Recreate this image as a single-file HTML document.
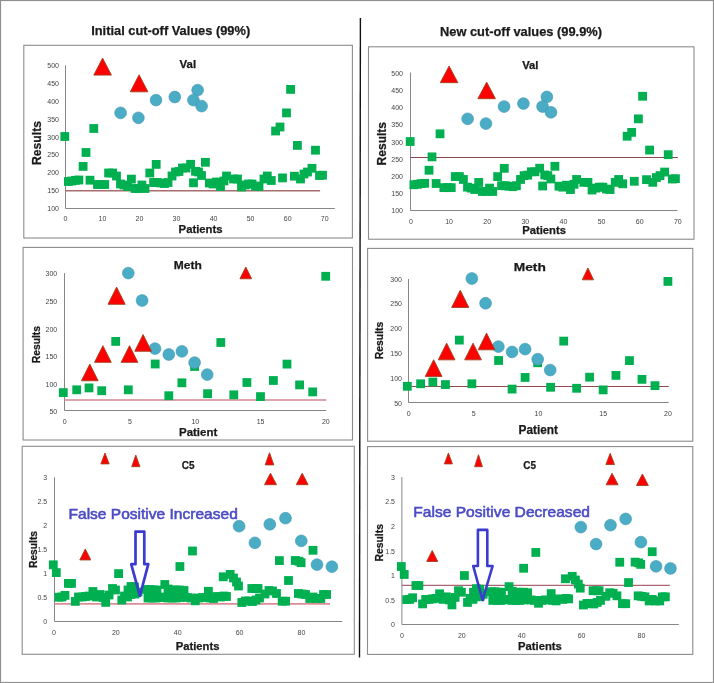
<!DOCTYPE html>
<html><head><meta charset="utf-8"><title>cut-off values</title>
<style>
html,body{margin:0;padding:0;background:#fff;}
svg{display:block;will-change:transform;}
text{font-family:"Liberation Sans", sans-serif;}
</style></head>
<body>
<svg width="714" height="683" viewBox="0 0 714 683">
<rect x="23.80" y="45.30" width="328.60" height="192.70" fill="#fff" stroke="#8c8c8c" stroke-width="1.1"/>
<rect x="368.50" y="46.80" width="325.50" height="192.40" fill="#fff" stroke="#8c8c8c" stroke-width="1.1"/>
<rect x="23.10" y="247.40" width="329.40" height="192.60" fill="#fff" stroke="#8c8c8c" stroke-width="1.1"/>
<rect x="367.60" y="248.40" width="325.20" height="192.80" fill="#fff" stroke="#8c8c8c" stroke-width="1.1"/>
<rect x="22.20" y="446.30" width="332.10" height="208.00" fill="#fff" stroke="#8c8c8c" stroke-width="1.1"/>
<rect x="367.50" y="446.60" width="325.30" height="207.80" fill="#fff" stroke="#8c8c8c" stroke-width="1.1"/>
<text x="91.20" y="35.00" font-size="13" text-anchor="start" font-weight="bold" fill="#1a1a1a" textLength="159.00" lengthAdjust="spacingAndGlyphs" stroke="#1a1a1a" stroke-width="0.25">Initial cut-off Values (99%)</text>
<text x="440.00" y="35.50" font-size="13" text-anchor="start" font-weight="bold" fill="#1a1a1a" textLength="162.00" lengthAdjust="spacingAndGlyphs" stroke="#1a1a1a" stroke-width="0.25">New cut-off values (99.9%)</text>
<line x1="360.40" y1="18.00" x2="359.50" y2="657.60" stroke="#111" stroke-width="1.4"/>
<line x1="65.50" y1="65.30" x2="65.50" y2="208.50" stroke="#868686" stroke-width="1"/>
<line x1="65.50" y1="208.50" x2="334.80" y2="208.50" stroke="#868686" stroke-width="1"/>
<line x1="65.50" y1="190.80" x2="320.10" y2="190.80" stroke="#a66e6e" stroke-width="1.4"/>
<text x="59.00" y="211.00" font-size="7" text-anchor="end" font-weight="normal" fill="#444444">100</text>
<text x="59.00" y="193.15" font-size="7" text-anchor="end" font-weight="normal" fill="#444444">150</text>
<text x="59.00" y="175.30" font-size="7" text-anchor="end" font-weight="normal" fill="#444444">200</text>
<text x="59.00" y="157.45" font-size="7" text-anchor="end" font-weight="normal" fill="#444444">250</text>
<text x="59.00" y="139.60" font-size="7" text-anchor="end" font-weight="normal" fill="#444444">300</text>
<text x="59.00" y="121.75" font-size="7" text-anchor="end" font-weight="normal" fill="#444444">350</text>
<text x="59.00" y="103.90" font-size="7" text-anchor="end" font-weight="normal" fill="#444444">400</text>
<text x="59.00" y="86.05" font-size="7" text-anchor="end" font-weight="normal" fill="#444444">450</text>
<text x="59.00" y="68.20" font-size="7" text-anchor="end" font-weight="normal" fill="#444444">500</text>
<text x="65.40" y="221.10" font-size="7" text-anchor="middle" font-weight="normal" fill="#444444">0</text>
<text x="102.44" y="221.10" font-size="7" text-anchor="middle" font-weight="normal" fill="#444444">10</text>
<text x="139.48" y="221.10" font-size="7" text-anchor="middle" font-weight="normal" fill="#444444">20</text>
<text x="176.52" y="221.10" font-size="7" text-anchor="middle" font-weight="normal" fill="#444444">30</text>
<text x="213.56" y="221.10" font-size="7" text-anchor="middle" font-weight="normal" fill="#444444">40</text>
<text x="250.60" y="221.10" font-size="7" text-anchor="middle" font-weight="normal" fill="#444444">50</text>
<text x="287.64" y="221.10" font-size="7" text-anchor="middle" font-weight="normal" fill="#444444">60</text>
<text x="324.68" y="221.10" font-size="7" text-anchor="middle" font-weight="normal" fill="#444444">70</text>
<text x="179.60" y="67.70" font-size="10.5" text-anchor="start" font-weight="bold" fill="#1a1a1a" textLength="16.50" lengthAdjust="spacingAndGlyphs" stroke="#1a1a1a" stroke-width="0.25">Val</text>
<text x="178.60" y="232.60" font-size="11" text-anchor="start" font-weight="bold" fill="#1a1a1a" textLength="44.00" lengthAdjust="spacingAndGlyphs" stroke="#1a1a1a" stroke-width="0.25">Patients</text>
<text x="0" y="0" font-size="12.9" font-weight="bold" fill="#1a1a1a" text-anchor="middle" textLength="44.00" lengthAdjust="spacingAndGlyphs" stroke="#1a1a1a" stroke-width="0.25" transform="translate(36.20,143.00) rotate(-90)" dy="4.64">Results</text>
<rect x="60.40" y="132.10" width="8.80" height="8.80" fill="#00b050"/>
<rect x="89.40" y="124.10" width="8.80" height="8.80" fill="#00b050"/>
<rect x="81.60" y="148.10" width="8.80" height="8.80" fill="#00b050"/>
<rect x="78.70" y="162.00" width="8.80" height="8.80" fill="#00b050"/>
<rect x="64.00" y="177.10" width="8.80" height="8.80" fill="#00b050"/>
<rect x="67.50" y="176.60" width="8.80" height="8.80" fill="#00b050"/>
<rect x="71.00" y="175.90" width="8.80" height="8.80" fill="#00b050"/>
<rect x="74.50" y="175.60" width="8.80" height="8.80" fill="#00b050"/>
<rect x="85.60" y="175.80" width="8.80" height="8.80" fill="#00b050"/>
<rect x="93.10" y="180.10" width="8.80" height="8.80" fill="#00b050"/>
<rect x="96.60" y="180.10" width="8.80" height="8.80" fill="#00b050"/>
<rect x="100.30" y="180.10" width="8.80" height="8.80" fill="#00b050"/>
<rect x="104.20" y="168.60" width="8.80" height="8.80" fill="#00b050"/>
<rect x="108.20" y="168.60" width="8.80" height="8.80" fill="#00b050"/>
<rect x="112.10" y="171.60" width="8.80" height="8.80" fill="#00b050"/>
<rect x="116.10" y="179.60" width="8.80" height="8.80" fill="#00b050"/>
<rect x="119.60" y="180.60" width="8.80" height="8.80" fill="#00b050"/>
<rect x="123.10" y="182.10" width="8.80" height="8.80" fill="#00b050"/>
<rect x="127.00" y="174.70" width="8.80" height="8.80" fill="#00b050"/>
<rect x="130.60" y="184.10" width="8.80" height="8.80" fill="#00b050"/>
<rect x="134.10" y="184.10" width="8.80" height="8.80" fill="#00b050"/>
<rect x="137.50" y="180.60" width="8.80" height="8.80" fill="#00b050"/>
<rect x="140.60" y="184.10" width="8.80" height="8.80" fill="#00b050"/>
<rect x="145.40" y="168.60" width="8.80" height="8.80" fill="#00b050"/>
<rect x="151.80" y="160.00" width="8.80" height="8.80" fill="#00b050"/>
<rect x="149.20" y="178.10" width="8.80" height="8.80" fill="#00b050"/>
<rect x="152.80" y="178.10" width="8.80" height="8.80" fill="#00b050"/>
<rect x="156.50" y="178.60" width="8.80" height="8.80" fill="#00b050"/>
<rect x="160.10" y="179.10" width="8.80" height="8.80" fill="#00b050"/>
<rect x="163.60" y="178.10" width="8.80" height="8.80" fill="#00b050"/>
<rect x="167.60" y="171.60" width="8.80" height="8.80" fill="#00b050"/>
<rect x="171.10" y="167.60" width="8.80" height="8.80" fill="#00b050"/>
<rect x="174.60" y="167.10" width="8.80" height="8.80" fill="#00b050"/>
<rect x="178.10" y="163.60" width="8.80" height="8.80" fill="#00b050"/>
<rect x="181.60" y="163.60" width="8.80" height="8.80" fill="#00b050"/>
<rect x="186.20" y="159.90" width="8.80" height="8.80" fill="#00b050"/>
<rect x="189.10" y="178.40" width="8.80" height="8.80" fill="#00b050"/>
<rect x="191.10" y="166.90" width="8.80" height="8.80" fill="#00b050"/>
<rect x="194.10" y="167.60" width="8.80" height="8.80" fill="#00b050"/>
<rect x="197.10" y="171.10" width="8.80" height="8.80" fill="#00b050"/>
<rect x="201.00" y="157.90" width="8.80" height="8.80" fill="#00b050"/>
<rect x="204.90" y="178.60" width="8.80" height="8.80" fill="#00b050"/>
<rect x="208.60" y="179.60" width="8.80" height="8.80" fill="#00b050"/>
<rect x="212.10" y="177.60" width="8.80" height="8.80" fill="#00b050"/>
<rect x="216.10" y="182.10" width="8.80" height="8.80" fill="#00b050"/>
<rect x="219.60" y="176.60" width="8.80" height="8.80" fill="#00b050"/>
<rect x="222.10" y="171.60" width="8.80" height="8.80" fill="#00b050"/>
<rect x="229.10" y="174.60" width="8.80" height="8.80" fill="#00b050"/>
<rect x="233.10" y="174.60" width="8.80" height="8.80" fill="#00b050"/>
<rect x="237.10" y="182.60" width="8.80" height="8.80" fill="#00b050"/>
<rect x="240.60" y="180.60" width="8.80" height="8.80" fill="#00b050"/>
<rect x="244.10" y="179.60" width="8.80" height="8.80" fill="#00b050"/>
<rect x="247.60" y="179.60" width="8.80" height="8.80" fill="#00b050"/>
<rect x="251.10" y="181.60" width="8.80" height="8.80" fill="#00b050"/>
<rect x="254.60" y="182.10" width="8.80" height="8.80" fill="#00b050"/>
<rect x="259.60" y="174.60" width="8.80" height="8.80" fill="#00b050"/>
<rect x="262.90" y="171.60" width="8.80" height="8.80" fill="#00b050"/>
<rect x="266.90" y="176.10" width="8.80" height="8.80" fill="#00b050"/>
<rect x="271.20" y="126.60" width="8.80" height="8.80" fill="#00b050"/>
<rect x="275.60" y="122.60" width="8.80" height="8.80" fill="#00b050"/>
<rect x="282.10" y="108.50" width="8.80" height="8.80" fill="#00b050"/>
<rect x="286.20" y="85.00" width="8.80" height="8.80" fill="#00b050"/>
<rect x="278.10" y="173.50" width="8.80" height="8.80" fill="#00b050"/>
<rect x="290.00" y="171.80" width="8.80" height="8.80" fill="#00b050"/>
<rect x="293.00" y="141.00" width="8.80" height="8.80" fill="#00b050"/>
<rect x="296.10" y="174.60" width="8.80" height="8.80" fill="#00b050"/>
<rect x="299.60" y="169.60" width="8.80" height="8.80" fill="#00b050"/>
<rect x="303.10" y="167.60" width="8.80" height="8.80" fill="#00b050"/>
<rect x="307.60" y="163.90" width="8.80" height="8.80" fill="#00b050"/>
<rect x="311.10" y="145.80" width="8.80" height="8.80" fill="#00b050"/>
<rect x="315.10" y="171.10" width="8.80" height="8.80" fill="#00b050"/>
<rect x="318.10" y="170.80" width="8.80" height="8.80" fill="#00b050"/>
<circle cx="120.60" cy="112.90" r="5.90" fill="#4bacc6" stroke="#3e96b0" stroke-width="0.6"/>
<circle cx="138.40" cy="117.80" r="5.90" fill="#4bacc6" stroke="#3e96b0" stroke-width="0.6"/>
<circle cx="156.00" cy="100.10" r="5.90" fill="#4bacc6" stroke="#3e96b0" stroke-width="0.6"/>
<circle cx="174.80" cy="97.00" r="5.90" fill="#4bacc6" stroke="#3e96b0" stroke-width="0.6"/>
<circle cx="197.60" cy="90.10" r="5.90" fill="#4bacc6" stroke="#3e96b0" stroke-width="0.6"/>
<circle cx="193.40" cy="100.10" r="5.90" fill="#4bacc6" stroke="#3e96b0" stroke-width="0.6"/>
<circle cx="201.60" cy="106.10" r="5.90" fill="#4bacc6" stroke="#3e96b0" stroke-width="0.6"/>
<polygon points="102.60,58.10 93.80,75.10 111.40,75.10" fill="#ff0000" stroke="#a2401e" stroke-width="0.9" stroke-linejoin="miter"/>
<polygon points="139.10,74.80 130.30,91.80 147.90,91.80" fill="#ff0000" stroke="#a2401e" stroke-width="0.9" stroke-linejoin="miter"/>
<line x1="410.50" y1="72.50" x2="410.50" y2="210.50" stroke="#868686" stroke-width="1"/>
<line x1="410.50" y1="210.50" x2="677.50" y2="210.50" stroke="#868686" stroke-width="1"/>
<line x1="410.50" y1="157.50" x2="677.80" y2="157.50" stroke="#8c464b" stroke-width="1.2"/>
<text x="403.00" y="213.20" font-size="7" text-anchor="end" font-weight="normal" fill="#444444">100</text>
<text x="403.00" y="196.05" font-size="7" text-anchor="end" font-weight="normal" fill="#444444">150</text>
<text x="403.00" y="178.90" font-size="7" text-anchor="end" font-weight="normal" fill="#444444">200</text>
<text x="403.00" y="161.75" font-size="7" text-anchor="end" font-weight="normal" fill="#444444">250</text>
<text x="403.00" y="144.60" font-size="7" text-anchor="end" font-weight="normal" fill="#444444">300</text>
<text x="403.00" y="127.45" font-size="7" text-anchor="end" font-weight="normal" fill="#444444">350</text>
<text x="403.00" y="110.30" font-size="7" text-anchor="end" font-weight="normal" fill="#444444">400</text>
<text x="403.00" y="93.15" font-size="7" text-anchor="end" font-weight="normal" fill="#444444">450</text>
<text x="403.00" y="76.00" font-size="7" text-anchor="end" font-weight="normal" fill="#444444">500</text>
<text x="410.90" y="223.80" font-size="7" text-anchor="middle" font-weight="normal" fill="#444444">0</text>
<text x="449.03" y="223.80" font-size="7" text-anchor="middle" font-weight="normal" fill="#444444">10</text>
<text x="487.16" y="223.80" font-size="7" text-anchor="middle" font-weight="normal" fill="#444444">20</text>
<text x="525.29" y="223.80" font-size="7" text-anchor="middle" font-weight="normal" fill="#444444">30</text>
<text x="563.42" y="223.80" font-size="7" text-anchor="middle" font-weight="normal" fill="#444444">40</text>
<text x="601.55" y="223.80" font-size="7" text-anchor="middle" font-weight="normal" fill="#444444">50</text>
<text x="639.68" y="223.80" font-size="7" text-anchor="middle" font-weight="normal" fill="#444444">60</text>
<text x="677.81" y="223.80" font-size="7" text-anchor="middle" font-weight="normal" fill="#444444">70</text>
<text x="522.20" y="68.60" font-size="10.5" text-anchor="start" font-weight="bold" fill="#1a1a1a" textLength="16.20" lengthAdjust="spacingAndGlyphs" stroke="#1a1a1a" stroke-width="0.25">Val</text>
<text x="522.20" y="233.60" font-size="11" text-anchor="start" font-weight="bold" fill="#1a1a1a" textLength="43.70" lengthAdjust="spacingAndGlyphs" stroke="#1a1a1a" stroke-width="0.25">Patients</text>
<text x="0" y="0" font-size="12.9" font-weight="bold" fill="#1a1a1a" text-anchor="middle" textLength="43.40" lengthAdjust="spacingAndGlyphs" stroke="#1a1a1a" stroke-width="0.25" transform="translate(381.30,143.70) rotate(-90)" dy="4.64">Results</text>
<rect x="405.78" y="137.11" width="8.80" height="8.80" fill="#00b050"/>
<rect x="435.63" y="129.43" width="8.80" height="8.80" fill="#00b050"/>
<rect x="427.60" y="152.48" width="8.80" height="8.80" fill="#00b050"/>
<rect x="424.62" y="165.84" width="8.80" height="8.80" fill="#00b050"/>
<rect x="409.49" y="180.35" width="8.80" height="8.80" fill="#00b050"/>
<rect x="413.09" y="179.87" width="8.80" height="8.80" fill="#00b050"/>
<rect x="416.69" y="179.19" width="8.80" height="8.80" fill="#00b050"/>
<rect x="420.30" y="178.91" width="8.80" height="8.80" fill="#00b050"/>
<rect x="431.72" y="179.10" width="8.80" height="8.80" fill="#00b050"/>
<rect x="439.44" y="183.23" width="8.80" height="8.80" fill="#00b050"/>
<rect x="443.04" y="183.23" width="8.80" height="8.80" fill="#00b050"/>
<rect x="446.85" y="183.23" width="8.80" height="8.80" fill="#00b050"/>
<rect x="450.87" y="172.18" width="8.80" height="8.80" fill="#00b050"/>
<rect x="454.98" y="172.18" width="8.80" height="8.80" fill="#00b050"/>
<rect x="459.00" y="175.06" width="8.80" height="8.80" fill="#00b050"/>
<rect x="463.11" y="182.75" width="8.80" height="8.80" fill="#00b050"/>
<rect x="466.72" y="183.71" width="8.80" height="8.80" fill="#00b050"/>
<rect x="470.32" y="185.15" width="8.80" height="8.80" fill="#00b050"/>
<rect x="474.33" y="178.04" width="8.80" height="8.80" fill="#00b050"/>
<rect x="478.04" y="187.07" width="8.80" height="8.80" fill="#00b050"/>
<rect x="481.64" y="187.07" width="8.80" height="8.80" fill="#00b050"/>
<rect x="485.14" y="183.71" width="8.80" height="8.80" fill="#00b050"/>
<rect x="488.33" y="187.07" width="8.80" height="8.80" fill="#00b050"/>
<rect x="493.27" y="172.18" width="8.80" height="8.80" fill="#00b050"/>
<rect x="499.86" y="163.92" width="8.80" height="8.80" fill="#00b050"/>
<rect x="497.19" y="181.31" width="8.80" height="8.80" fill="#00b050"/>
<rect x="500.89" y="181.31" width="8.80" height="8.80" fill="#00b050"/>
<rect x="504.70" y="181.79" width="8.80" height="8.80" fill="#00b050"/>
<rect x="508.40" y="182.27" width="8.80" height="8.80" fill="#00b050"/>
<rect x="512.01" y="181.31" width="8.80" height="8.80" fill="#00b050"/>
<rect x="516.12" y="175.06" width="8.80" height="8.80" fill="#00b050"/>
<rect x="519.73" y="171.22" width="8.80" height="8.80" fill="#00b050"/>
<rect x="523.33" y="170.74" width="8.80" height="8.80" fill="#00b050"/>
<rect x="526.93" y="167.38" width="8.80" height="8.80" fill="#00b050"/>
<rect x="530.53" y="167.38" width="8.80" height="8.80" fill="#00b050"/>
<rect x="535.27" y="163.82" width="8.80" height="8.80" fill="#00b050"/>
<rect x="538.25" y="181.60" width="8.80" height="8.80" fill="#00b050"/>
<rect x="540.31" y="170.55" width="8.80" height="8.80" fill="#00b050"/>
<rect x="543.40" y="171.22" width="8.80" height="8.80" fill="#00b050"/>
<rect x="546.49" y="174.58" width="8.80" height="8.80" fill="#00b050"/>
<rect x="550.50" y="161.90" width="8.80" height="8.80" fill="#00b050"/>
<rect x="554.52" y="181.79" width="8.80" height="8.80" fill="#00b050"/>
<rect x="558.33" y="182.75" width="8.80" height="8.80" fill="#00b050"/>
<rect x="561.93" y="180.83" width="8.80" height="8.80" fill="#00b050"/>
<rect x="566.05" y="185.15" width="8.80" height="8.80" fill="#00b050"/>
<rect x="569.65" y="179.87" width="8.80" height="8.80" fill="#00b050"/>
<rect x="572.22" y="175.06" width="8.80" height="8.80" fill="#00b050"/>
<rect x="579.43" y="177.95" width="8.80" height="8.80" fill="#00b050"/>
<rect x="583.54" y="177.95" width="8.80" height="8.80" fill="#00b050"/>
<rect x="587.66" y="185.63" width="8.80" height="8.80" fill="#00b050"/>
<rect x="591.26" y="183.71" width="8.80" height="8.80" fill="#00b050"/>
<rect x="594.87" y="182.75" width="8.80" height="8.80" fill="#00b050"/>
<rect x="598.47" y="182.75" width="8.80" height="8.80" fill="#00b050"/>
<rect x="602.07" y="184.67" width="8.80" height="8.80" fill="#00b050"/>
<rect x="605.67" y="185.15" width="8.80" height="8.80" fill="#00b050"/>
<rect x="610.82" y="177.95" width="8.80" height="8.80" fill="#00b050"/>
<rect x="614.22" y="175.06" width="8.80" height="8.80" fill="#00b050"/>
<rect x="618.33" y="179.39" width="8.80" height="8.80" fill="#00b050"/>
<rect x="622.76" y="131.83" width="8.80" height="8.80" fill="#00b050"/>
<rect x="627.29" y="127.98" width="8.80" height="8.80" fill="#00b050"/>
<rect x="633.98" y="114.44" width="8.80" height="8.80" fill="#00b050"/>
<rect x="638.20" y="91.86" width="8.80" height="8.80" fill="#00b050"/>
<rect x="629.86" y="176.89" width="8.80" height="8.80" fill="#00b050"/>
<rect x="642.11" y="175.25" width="8.80" height="8.80" fill="#00b050"/>
<rect x="645.20" y="145.66" width="8.80" height="8.80" fill="#00b050"/>
<rect x="648.39" y="177.95" width="8.80" height="8.80" fill="#00b050"/>
<rect x="651.99" y="173.14" width="8.80" height="8.80" fill="#00b050"/>
<rect x="655.60" y="171.22" width="8.80" height="8.80" fill="#00b050"/>
<rect x="660.23" y="167.66" width="8.80" height="8.80" fill="#00b050"/>
<rect x="663.83" y="150.27" width="8.80" height="8.80" fill="#00b050"/>
<rect x="667.95" y="174.58" width="8.80" height="8.80" fill="#00b050"/>
<rect x="671.04" y="174.29" width="8.80" height="8.80" fill="#00b050"/>
<circle cx="467.62" cy="118.84" r="5.90" fill="#4bacc6" stroke="#3e96b0" stroke-width="0.6"/>
<circle cx="485.94" cy="123.55" r="5.90" fill="#4bacc6" stroke="#3e96b0" stroke-width="0.6"/>
<circle cx="504.06" cy="106.54" r="5.90" fill="#4bacc6" stroke="#3e96b0" stroke-width="0.6"/>
<circle cx="523.41" cy="103.56" r="5.90" fill="#4bacc6" stroke="#3e96b0" stroke-width="0.6"/>
<circle cx="546.87" cy="96.93" r="5.90" fill="#4bacc6" stroke="#3e96b0" stroke-width="0.6"/>
<circle cx="542.55" cy="106.54" r="5.90" fill="#4bacc6" stroke="#3e96b0" stroke-width="0.6"/>
<circle cx="550.99" cy="112.30" r="5.90" fill="#4bacc6" stroke="#3e96b0" stroke-width="0.6"/>
<polygon points="449.09,66.05 440.29,82.65 457.89,82.65" fill="#ff0000" stroke="#a2401e" stroke-width="0.9" stroke-linejoin="miter"/>
<polygon points="486.66,82.10 477.86,98.70 495.46,98.70" fill="#ff0000" stroke="#a2401e" stroke-width="0.9" stroke-linejoin="miter"/>
<line x1="64.50" y1="273.10" x2="64.50" y2="410.50" stroke="#868686" stroke-width="1"/>
<line x1="64.50" y1="410.50" x2="326.30" y2="410.50" stroke="#868686" stroke-width="1"/>
<line x1="64.50" y1="400.10" x2="326.30" y2="400.10" stroke="#d0878f" stroke-width="1.5"/>
<text x="57.20" y="414.40" font-size="7" text-anchor="end" font-weight="normal" fill="#444444">50</text>
<text x="57.20" y="386.80" font-size="7" text-anchor="end" font-weight="normal" fill="#444444">100</text>
<text x="57.20" y="359.20" font-size="7" text-anchor="end" font-weight="normal" fill="#444444">150</text>
<text x="57.20" y="331.60" font-size="7" text-anchor="end" font-weight="normal" fill="#444444">200</text>
<text x="57.20" y="304.00" font-size="7" text-anchor="end" font-weight="normal" fill="#444444">250</text>
<text x="57.20" y="276.40" font-size="7" text-anchor="end" font-weight="normal" fill="#444444">300</text>
<text x="64.80" y="424.00" font-size="7" text-anchor="middle" font-weight="normal" fill="#444444">0</text>
<text x="130.05" y="424.00" font-size="7" text-anchor="middle" font-weight="normal" fill="#444444">5</text>
<text x="195.30" y="424.00" font-size="7" text-anchor="middle" font-weight="normal" fill="#444444">10</text>
<text x="260.55" y="424.00" font-size="7" text-anchor="middle" font-weight="normal" fill="#444444">15</text>
<text x="325.80" y="424.00" font-size="7" text-anchor="middle" font-weight="normal" fill="#444444">20</text>
<text x="173.80" y="269.00" font-size="10.6" text-anchor="start" font-weight="bold" fill="#1a1a1a" textLength="28.00" lengthAdjust="spacingAndGlyphs" stroke="#1a1a1a" stroke-width="0.25">Meth</text>
<text x="179.00" y="435.50" font-size="11.5" text-anchor="start" font-weight="bold" fill="#1a1a1a" textLength="38.20" lengthAdjust="spacingAndGlyphs" stroke="#1a1a1a" stroke-width="0.25">Patient</text>
<text x="0" y="0" font-size="11.2" font-weight="bold" fill="#1a1a1a" text-anchor="middle" textLength="37.30" lengthAdjust="spacingAndGlyphs" stroke="#1a1a1a" stroke-width="0.25" transform="translate(36.30,344.60) rotate(-90)" dy="4.03">Results</text>
<rect x="58.90" y="388.20" width="8.80" height="8.80" fill="#00b050"/>
<rect x="72.30" y="385.40" width="8.80" height="8.80" fill="#00b050"/>
<rect x="84.60" y="383.50" width="8.80" height="8.80" fill="#00b050"/>
<rect x="97.30" y="386.30" width="8.80" height="8.80" fill="#00b050"/>
<rect x="111.30" y="337.00" width="8.80" height="8.80" fill="#00b050"/>
<rect x="123.90" y="385.40" width="8.80" height="8.80" fill="#00b050"/>
<rect x="150.80" y="359.60" width="8.80" height="8.80" fill="#00b050"/>
<rect x="164.40" y="391.30" width="8.80" height="8.80" fill="#00b050"/>
<rect x="177.50" y="378.40" width="8.80" height="8.80" fill="#00b050"/>
<rect x="190.20" y="362.10" width="8.80" height="8.80" fill="#00b050"/>
<rect x="203.20" y="389.30" width="8.80" height="8.80" fill="#00b050"/>
<rect x="216.40" y="338.10" width="8.80" height="8.80" fill="#00b050"/>
<rect x="229.40" y="390.40" width="8.80" height="8.80" fill="#00b050"/>
<rect x="242.50" y="378.10" width="8.80" height="8.80" fill="#00b050"/>
<rect x="256.10" y="392.20" width="8.80" height="8.80" fill="#00b050"/>
<rect x="269.00" y="376.10" width="8.80" height="8.80" fill="#00b050"/>
<rect x="282.60" y="359.70" width="8.80" height="8.80" fill="#00b050"/>
<rect x="295.20" y="380.50" width="8.80" height="8.80" fill="#00b050"/>
<rect x="308.30" y="387.50" width="8.80" height="8.80" fill="#00b050"/>
<rect x="321.30" y="271.90" width="8.80" height="8.80" fill="#00b050"/>
<circle cx="128.30" cy="273.10" r="5.90" fill="#4bacc6" stroke="#3e96b0" stroke-width="0.6"/>
<circle cx="142.10" cy="300.50" r="5.90" fill="#4bacc6" stroke="#3e96b0" stroke-width="0.6"/>
<circle cx="155.00" cy="348.60" r="5.90" fill="#4bacc6" stroke="#3e96b0" stroke-width="0.6"/>
<circle cx="168.80" cy="354.50" r="5.90" fill="#4bacc6" stroke="#3e96b0" stroke-width="0.6"/>
<circle cx="181.90" cy="351.40" r="5.90" fill="#4bacc6" stroke="#3e96b0" stroke-width="0.6"/>
<circle cx="194.60" cy="362.60" r="5.90" fill="#4bacc6" stroke="#3e96b0" stroke-width="0.6"/>
<circle cx="207.20" cy="374.60" r="5.90" fill="#4bacc6" stroke="#3e96b0" stroke-width="0.6"/>
<polygon points="89.80,364.05 81.45,380.75 98.15,380.75" fill="#ff0000" stroke="#a2401e" stroke-width="0.9" stroke-linejoin="miter"/>
<polygon points="102.90,345.65 94.55,362.35 111.25,362.35" fill="#ff0000" stroke="#a2401e" stroke-width="0.9" stroke-linejoin="miter"/>
<polygon points="129.50,345.65 121.15,362.35 137.85,362.35" fill="#ff0000" stroke="#a2401e" stroke-width="0.9" stroke-linejoin="miter"/>
<polygon points="143.10,334.55 134.75,351.25 151.45,351.25" fill="#ff0000" stroke="#a2401e" stroke-width="0.9" stroke-linejoin="miter"/>
<polygon points="116.60,287.10 108.00,304.30 125.20,304.30" fill="#ff0000" stroke="#a2401e" stroke-width="0.9" stroke-linejoin="miter"/>
<polygon points="245.80,267.05 239.95,278.75 251.65,278.75" fill="#ff0000" stroke="#a2401e" stroke-width="0.9" stroke-linejoin="miter"/>
<line x1="408.50" y1="279.00" x2="408.50" y2="402.50" stroke="#868686" stroke-width="1"/>
<line x1="408.50" y1="402.50" x2="668.60" y2="402.50" stroke="#868686" stroke-width="1"/>
<line x1="408.50" y1="386.50" x2="668.80" y2="386.50" stroke="#93484f" stroke-width="1.2"/>
<text x="402.00" y="405.50" font-size="7" text-anchor="end" font-weight="normal" fill="#444444">50</text>
<text x="402.00" y="380.70" font-size="7" text-anchor="end" font-weight="normal" fill="#444444">100</text>
<text x="402.00" y="355.90" font-size="7" text-anchor="end" font-weight="normal" fill="#444444">150</text>
<text x="402.00" y="331.10" font-size="7" text-anchor="end" font-weight="normal" fill="#444444">200</text>
<text x="402.00" y="306.30" font-size="7" text-anchor="end" font-weight="normal" fill="#444444">250</text>
<text x="402.00" y="281.50" font-size="7" text-anchor="end" font-weight="normal" fill="#444444">300</text>
<text x="408.80" y="416.40" font-size="7" text-anchor="middle" font-weight="normal" fill="#444444">0</text>
<text x="473.60" y="416.40" font-size="7" text-anchor="middle" font-weight="normal" fill="#444444">5</text>
<text x="538.40" y="416.40" font-size="7" text-anchor="middle" font-weight="normal" fill="#444444">10</text>
<text x="603.20" y="416.40" font-size="7" text-anchor="middle" font-weight="normal" fill="#444444">15</text>
<text x="668.00" y="416.40" font-size="7" text-anchor="middle" font-weight="normal" fill="#444444">20</text>
<text x="513.80" y="270.80" font-size="11.7" text-anchor="start" font-weight="bold" fill="#1a1a1a" textLength="32.00" lengthAdjust="spacingAndGlyphs" stroke="#1a1a1a" stroke-width="0.25">Meth</text>
<text x="518.50" y="434.10" font-size="12" text-anchor="start" font-weight="bold" fill="#1a1a1a" textLength="39.50" lengthAdjust="spacingAndGlyphs" stroke="#1a1a1a" stroke-width="0.25">Patient</text>
<text x="0" y="0" font-size="11.2" font-weight="bold" fill="#1a1a1a" text-anchor="middle" textLength="37.50" lengthAdjust="spacingAndGlyphs" stroke="#1a1a1a" stroke-width="0.25" transform="translate(378.90,340.50) rotate(-90)" dy="4.03">Results</text>
<rect x="402.91" y="381.89" width="8.80" height="8.80" fill="#00b050"/>
<rect x="416.22" y="379.36" width="8.80" height="8.80" fill="#00b050"/>
<rect x="428.43" y="377.65" width="8.80" height="8.80" fill="#00b050"/>
<rect x="441.05" y="380.17" width="8.80" height="8.80" fill="#00b050"/>
<rect x="454.95" y="335.71" width="8.80" height="8.80" fill="#00b050"/>
<rect x="467.46" y="379.36" width="8.80" height="8.80" fill="#00b050"/>
<rect x="494.18" y="356.09" width="8.80" height="8.80" fill="#00b050"/>
<rect x="507.68" y="384.68" width="8.80" height="8.80" fill="#00b050"/>
<rect x="520.69" y="373.05" width="8.80" height="8.80" fill="#00b050"/>
<rect x="533.30" y="358.35" width="8.80" height="8.80" fill="#00b050"/>
<rect x="546.22" y="382.88" width="8.80" height="8.80" fill="#00b050"/>
<rect x="559.32" y="336.71" width="8.80" height="8.80" fill="#00b050"/>
<rect x="572.23" y="383.87" width="8.80" height="8.80" fill="#00b050"/>
<rect x="585.24" y="372.78" width="8.80" height="8.80" fill="#00b050"/>
<rect x="598.75" y="385.49" width="8.80" height="8.80" fill="#00b050"/>
<rect x="611.56" y="370.97" width="8.80" height="8.80" fill="#00b050"/>
<rect x="625.07" y="356.19" width="8.80" height="8.80" fill="#00b050"/>
<rect x="637.58" y="374.94" width="8.80" height="8.80" fill="#00b050"/>
<rect x="650.59" y="381.26" width="8.80" height="8.80" fill="#00b050"/>
<rect x="663.50" y="277.01" width="8.80" height="8.80" fill="#00b050"/>
<circle cx="471.86" cy="278.52" r="5.90" fill="#4bacc6" stroke="#3e96b0" stroke-width="0.6"/>
<circle cx="485.57" cy="303.23" r="5.90" fill="#4bacc6" stroke="#3e96b0" stroke-width="0.6"/>
<circle cx="498.38" cy="346.61" r="5.90" fill="#4bacc6" stroke="#3e96b0" stroke-width="0.6"/>
<circle cx="512.08" cy="351.93" r="5.90" fill="#4bacc6" stroke="#3e96b0" stroke-width="0.6"/>
<circle cx="525.09" cy="349.13" r="5.90" fill="#4bacc6" stroke="#3e96b0" stroke-width="0.6"/>
<circle cx="537.70" cy="359.23" r="5.90" fill="#4bacc6" stroke="#3e96b0" stroke-width="0.6"/>
<circle cx="550.22" cy="370.05" r="5.90" fill="#4bacc6" stroke="#3e96b0" stroke-width="0.6"/>
<polygon points="433.63,359.72 425.28,376.42 441.98,376.42" fill="#ff0000" stroke="#a2401e" stroke-width="0.9" stroke-linejoin="miter"/>
<polygon points="446.64,343.13 438.29,359.83 454.99,359.83" fill="#ff0000" stroke="#a2401e" stroke-width="0.9" stroke-linejoin="miter"/>
<polygon points="473.05,343.13 464.70,359.83 481.40,359.83" fill="#ff0000" stroke="#a2401e" stroke-width="0.9" stroke-linejoin="miter"/>
<polygon points="486.56,333.12 478.21,349.82 494.91,349.82" fill="#ff0000" stroke="#a2401e" stroke-width="0.9" stroke-linejoin="miter"/>
<polygon points="460.24,290.30 451.64,307.50 468.84,307.50" fill="#ff0000" stroke="#a2401e" stroke-width="0.9" stroke-linejoin="miter"/>
<polygon points="587.90,267.90 582.30,279.80 593.50,279.80" fill="#ff0000" stroke="#a2401e" stroke-width="0.9" stroke-linejoin="miter"/>
<line x1="54.50" y1="477.20" x2="54.50" y2="621.50" stroke="#868686" stroke-width="1"/>
<line x1="54.50" y1="621.50" x2="342.30" y2="621.50" stroke="#868686" stroke-width="1"/>
<line x1="54.50" y1="603.90" x2="330.00" y2="603.90" stroke="#dd8c96" stroke-width="1.6"/>
<text x="47.20" y="624.20" font-size="7" text-anchor="end" font-weight="normal" fill="#444444">0</text>
<text x="47.20" y="600.17" font-size="7" text-anchor="end" font-weight="normal" fill="#444444">0.5</text>
<text x="47.20" y="576.14" font-size="7" text-anchor="end" font-weight="normal" fill="#444444">1</text>
<text x="47.20" y="552.11" font-size="7" text-anchor="end" font-weight="normal" fill="#444444">1.5</text>
<text x="47.20" y="528.08" font-size="7" text-anchor="end" font-weight="normal" fill="#444444">2</text>
<text x="47.20" y="504.05" font-size="7" text-anchor="end" font-weight="normal" fill="#444444">2.5</text>
<text x="47.20" y="480.02" font-size="7" text-anchor="end" font-weight="normal" fill="#444444">3</text>
<text x="53.90" y="635.30" font-size="7" text-anchor="middle" font-weight="normal" fill="#444444">0</text>
<text x="115.80" y="635.30" font-size="7" text-anchor="middle" font-weight="normal" fill="#444444">20</text>
<text x="177.70" y="635.30" font-size="7" text-anchor="middle" font-weight="normal" fill="#444444">40</text>
<text x="239.60" y="635.30" font-size="7" text-anchor="middle" font-weight="normal" fill="#444444">60</text>
<text x="301.50" y="635.30" font-size="7" text-anchor="middle" font-weight="normal" fill="#444444">80</text>
<text x="181.70" y="468.80" font-size="11.5" text-anchor="start" font-weight="bold" fill="#1a1a1a" textLength="12.80" lengthAdjust="spacingAndGlyphs" stroke="#1a1a1a" stroke-width="0.25">C5</text>
<text x="175.70" y="650.00" font-size="11" text-anchor="start" font-weight="bold" fill="#1a1a1a" textLength="43.70" lengthAdjust="spacingAndGlyphs" stroke="#1a1a1a" stroke-width="0.25">Patients</text>
<text x="0" y="0" font-size="11.2" font-weight="bold" fill="#1a1a1a" text-anchor="middle" textLength="37.00" lengthAdjust="spacingAndGlyphs" stroke="#1a1a1a" stroke-width="0.25" transform="translate(32.60,549.50) rotate(-90)" dy="4.03">Results</text>
<rect x="48.90" y="560.40" width="8.80" height="8.80" fill="#00b050"/>
<rect x="51.90" y="568.20" width="8.80" height="8.80" fill="#00b050"/>
<rect x="64.00" y="579.00" width="8.80" height="8.80" fill="#00b050"/>
<rect x="67.10" y="579.00" width="8.80" height="8.80" fill="#00b050"/>
<rect x="54.50" y="592.80" width="8.80" height="8.80" fill="#00b050"/>
<rect x="57.60" y="592.60" width="8.80" height="8.80" fill="#00b050"/>
<rect x="60.60" y="591.00" width="8.80" height="8.80" fill="#00b050"/>
<rect x="70.90" y="597.00" width="8.80" height="8.80" fill="#00b050"/>
<rect x="74.10" y="592.60" width="8.80" height="8.80" fill="#00b050"/>
<rect x="77.60" y="592.60" width="8.80" height="8.80" fill="#00b050"/>
<rect x="81.10" y="592.10" width="8.80" height="8.80" fill="#00b050"/>
<rect x="84.60" y="591.60" width="8.80" height="8.80" fill="#00b050"/>
<rect x="88.50" y="587.10" width="8.80" height="8.80" fill="#00b050"/>
<rect x="92.10" y="592.60" width="8.80" height="8.80" fill="#00b050"/>
<rect x="95.60" y="590.10" width="8.80" height="8.80" fill="#00b050"/>
<rect x="98.60" y="593.10" width="8.80" height="8.80" fill="#00b050"/>
<rect x="101.30" y="598.00" width="8.80" height="8.80" fill="#00b050"/>
<rect x="104.60" y="590.60" width="8.80" height="8.80" fill="#00b050"/>
<rect x="108.10" y="584.10" width="8.80" height="8.80" fill="#00b050"/>
<rect x="111.10" y="585.60" width="8.80" height="8.80" fill="#00b050"/>
<rect x="114.20" y="569.20" width="8.80" height="8.80" fill="#00b050"/>
<rect x="117.40" y="595.60" width="8.80" height="8.80" fill="#00b050"/>
<rect x="120.10" y="591.60" width="8.80" height="8.80" fill="#00b050"/>
<rect x="123.60" y="585.60" width="8.80" height="8.80" fill="#00b050"/>
<rect x="126.60" y="582.10" width="8.80" height="8.80" fill="#00b050"/>
<rect x="130.10" y="582.60" width="8.80" height="8.80" fill="#00b050"/>
<rect x="133.60" y="587.60" width="8.80" height="8.80" fill="#00b050"/>
<rect x="126.60" y="590.10" width="8.80" height="8.80" fill="#00b050"/>
<rect x="130.60" y="589.60" width="8.80" height="8.80" fill="#00b050"/>
<rect x="123.10" y="592.60" width="8.80" height="8.80" fill="#00b050"/>
<rect x="142.10" y="585.10" width="8.80" height="8.80" fill="#00b050"/>
<rect x="145.60" y="585.10" width="8.80" height="8.80" fill="#00b050"/>
<rect x="149.10" y="585.60" width="8.80" height="8.80" fill="#00b050"/>
<rect x="152.60" y="585.60" width="8.80" height="8.80" fill="#00b050"/>
<rect x="160.40" y="580.10" width="8.80" height="8.80" fill="#00b050"/>
<rect x="163.60" y="584.60" width="8.80" height="8.80" fill="#00b050"/>
<rect x="167.60" y="585.60" width="8.80" height="8.80" fill="#00b050"/>
<rect x="171.60" y="585.60" width="8.80" height="8.80" fill="#00b050"/>
<rect x="175.60" y="585.60" width="8.80" height="8.80" fill="#00b050"/>
<rect x="179.60" y="586.10" width="8.80" height="8.80" fill="#00b050"/>
<rect x="143.60" y="593.60" width="8.80" height="8.80" fill="#00b050"/>
<rect x="147.60" y="593.60" width="8.80" height="8.80" fill="#00b050"/>
<rect x="151.60" y="593.60" width="8.80" height="8.80" fill="#00b050"/>
<rect x="155.60" y="593.10" width="8.80" height="8.80" fill="#00b050"/>
<rect x="159.60" y="592.60" width="8.80" height="8.80" fill="#00b050"/>
<rect x="163.60" y="593.60" width="8.80" height="8.80" fill="#00b050"/>
<rect x="167.60" y="593.60" width="8.80" height="8.80" fill="#00b050"/>
<rect x="171.60" y="593.60" width="8.80" height="8.80" fill="#00b050"/>
<rect x="175.60" y="593.10" width="8.80" height="8.80" fill="#00b050"/>
<rect x="175.50" y="562.10" width="8.80" height="8.80" fill="#00b050"/>
<rect x="183.10" y="593.10" width="8.80" height="8.80" fill="#00b050"/>
<rect x="186.60" y="593.60" width="8.80" height="8.80" fill="#00b050"/>
<rect x="190.90" y="596.40" width="8.80" height="8.80" fill="#00b050"/>
<rect x="194.60" y="593.60" width="8.80" height="8.80" fill="#00b050"/>
<rect x="198.10" y="593.10" width="8.80" height="8.80" fill="#00b050"/>
<rect x="204.00" y="586.90" width="8.80" height="8.80" fill="#00b050"/>
<rect x="205.60" y="593.60" width="8.80" height="8.80" fill="#00b050"/>
<rect x="209.10" y="594.10" width="8.80" height="8.80" fill="#00b050"/>
<rect x="212.60" y="592.10" width="8.80" height="8.80" fill="#00b050"/>
<rect x="216.10" y="592.60" width="8.80" height="8.80" fill="#00b050"/>
<rect x="219.60" y="591.60" width="8.80" height="8.80" fill="#00b050"/>
<rect x="222.10" y="592.10" width="8.80" height="8.80" fill="#00b050"/>
<rect x="188.10" y="546.60" width="8.80" height="8.80" fill="#00b050"/>
<rect x="218.80" y="572.40" width="8.80" height="8.80" fill="#00b050"/>
<rect x="225.80" y="570.00" width="8.80" height="8.80" fill="#00b050"/>
<rect x="229.10" y="573.60" width="8.80" height="8.80" fill="#00b050"/>
<rect x="232.10" y="577.60" width="8.80" height="8.80" fill="#00b050"/>
<rect x="234.10" y="581.60" width="8.80" height="8.80" fill="#00b050"/>
<rect x="237.40" y="598.10" width="8.80" height="8.80" fill="#00b050"/>
<rect x="241.10" y="596.60" width="8.80" height="8.80" fill="#00b050"/>
<rect x="244.60" y="596.60" width="8.80" height="8.80" fill="#00b050"/>
<rect x="248.10" y="597.10" width="8.80" height="8.80" fill="#00b050"/>
<rect x="251.60" y="595.60" width="8.80" height="8.80" fill="#00b050"/>
<rect x="255.10" y="593.60" width="8.80" height="8.80" fill="#00b050"/>
<rect x="247.40" y="584.10" width="8.80" height="8.80" fill="#00b050"/>
<rect x="251.10" y="584.10" width="8.80" height="8.80" fill="#00b050"/>
<rect x="253.60" y="584.10" width="8.80" height="8.80" fill="#00b050"/>
<rect x="260.60" y="589.60" width="8.80" height="8.80" fill="#00b050"/>
<rect x="264.60" y="586.10" width="8.80" height="8.80" fill="#00b050"/>
<rect x="268.10" y="586.60" width="8.80" height="8.80" fill="#00b050"/>
<rect x="272.10" y="589.10" width="8.80" height="8.80" fill="#00b050"/>
<rect x="275.00" y="556.20" width="8.80" height="8.80" fill="#00b050"/>
<rect x="277.80" y="596.80" width="8.80" height="8.80" fill="#00b050"/>
<rect x="281.20" y="596.80" width="8.80" height="8.80" fill="#00b050"/>
<rect x="284.10" y="576.10" width="8.80" height="8.80" fill="#00b050"/>
<rect x="290.90" y="556.10" width="8.80" height="8.80" fill="#00b050"/>
<rect x="294.60" y="556.80" width="8.80" height="8.80" fill="#00b050"/>
<rect x="296.70" y="558.30" width="8.80" height="8.80" fill="#00b050"/>
<rect x="294.00" y="589.10" width="8.80" height="8.80" fill="#00b050"/>
<rect x="297.60" y="589.60" width="8.80" height="8.80" fill="#00b050"/>
<rect x="301.10" y="590.10" width="8.80" height="8.80" fill="#00b050"/>
<rect x="305.40" y="594.10" width="8.80" height="8.80" fill="#00b050"/>
<rect x="308.60" y="592.60" width="8.80" height="8.80" fill="#00b050"/>
<rect x="312.10" y="594.10" width="8.80" height="8.80" fill="#00b050"/>
<rect x="316.40" y="594.10" width="8.80" height="8.80" fill="#00b050"/>
<rect x="319.10" y="590.10" width="8.80" height="8.80" fill="#00b050"/>
<rect x="322.20" y="590.10" width="8.80" height="8.80" fill="#00b050"/>
<rect x="308.60" y="545.90" width="8.80" height="8.80" fill="#00b050"/>
<circle cx="239.10" cy="526.20" r="5.90" fill="#4bacc6" stroke="#3e96b0" stroke-width="0.6"/>
<circle cx="254.90" cy="542.80" r="5.90" fill="#4bacc6" stroke="#3e96b0" stroke-width="0.6"/>
<circle cx="269.80" cy="524.30" r="5.90" fill="#4bacc6" stroke="#3e96b0" stroke-width="0.6"/>
<circle cx="285.50" cy="518.20" r="5.90" fill="#4bacc6" stroke="#3e96b0" stroke-width="0.6"/>
<circle cx="301.30" cy="540.90" r="5.90" fill="#4bacc6" stroke="#3e96b0" stroke-width="0.6"/>
<circle cx="317.00" cy="564.60" r="5.90" fill="#4bacc6" stroke="#3e96b0" stroke-width="0.6"/>
<circle cx="331.90" cy="566.70" r="5.90" fill="#4bacc6" stroke="#3e96b0" stroke-width="0.6"/>
<polygon points="85.30,548.95 79.80,559.95 90.80,559.95" fill="#ff0000" stroke="#a2401e" stroke-width="0.9" stroke-linejoin="miter"/>
<polygon points="105.00,453.00 100.85,463.90 109.15,463.90" fill="#ff0000" stroke="#a2401e" stroke-width="0.9" stroke-linejoin="miter"/>
<polygon points="135.80,455.10 131.70,466.70 139.90,466.70" fill="#ff0000" stroke="#a2401e" stroke-width="0.9" stroke-linejoin="miter"/>
<polygon points="269.50,452.70 265.20,464.90 273.80,464.90" fill="#ff0000" stroke="#a2401e" stroke-width="0.9" stroke-linejoin="miter"/>
<polygon points="270.50,473.20 264.50,484.70 276.50,484.70" fill="#ff0000" stroke="#a2401e" stroke-width="0.9" stroke-linejoin="miter"/>
<polygon points="302.20,473.20 296.25,484.70 308.15,484.70" fill="#ff0000" stroke="#a2401e" stroke-width="0.9" stroke-linejoin="miter"/>
<line x1="401.90" y1="477.10" x2="401.90" y2="624.50" stroke="#868686" stroke-width="1"/>
<line x1="401.90" y1="624.50" x2="678.80" y2="624.50" stroke="#868686" stroke-width="1"/>
<line x1="401.90" y1="585.40" x2="669.80" y2="585.40" stroke="#aa6473" stroke-width="1.3"/>
<text x="395.00" y="627.10" font-size="7" text-anchor="end" font-weight="normal" fill="#444444">0</text>
<text x="395.00" y="602.57" font-size="7" text-anchor="end" font-weight="normal" fill="#444444">0.5</text>
<text x="395.00" y="578.04" font-size="7" text-anchor="end" font-weight="normal" fill="#444444">1</text>
<text x="395.00" y="553.51" font-size="7" text-anchor="end" font-weight="normal" fill="#444444">1.5</text>
<text x="395.00" y="528.98" font-size="7" text-anchor="end" font-weight="normal" fill="#444444">2</text>
<text x="395.00" y="504.45" font-size="7" text-anchor="end" font-weight="normal" fill="#444444">2.5</text>
<text x="395.00" y="479.92" font-size="7" text-anchor="end" font-weight="normal" fill="#444444">3</text>
<text x="401.90" y="637.50" font-size="7" text-anchor="middle" font-weight="normal" fill="#444444">0</text>
<text x="461.80" y="637.50" font-size="7" text-anchor="middle" font-weight="normal" fill="#444444">20</text>
<text x="521.70" y="637.50" font-size="7" text-anchor="middle" font-weight="normal" fill="#444444">40</text>
<text x="581.60" y="637.50" font-size="7" text-anchor="middle" font-weight="normal" fill="#444444">60</text>
<text x="641.50" y="637.50" font-size="7" text-anchor="middle" font-weight="normal" fill="#444444">80</text>
<text x="523.20" y="469.00" font-size="11.5" text-anchor="start" font-weight="bold" fill="#1a1a1a" textLength="12.80" lengthAdjust="spacingAndGlyphs" stroke="#1a1a1a" stroke-width="0.25">C5</text>
<text x="518.10" y="650.30" font-size="11" text-anchor="start" font-weight="bold" fill="#1a1a1a" textLength="43.70" lengthAdjust="spacingAndGlyphs" stroke="#1a1a1a" stroke-width="0.25">Patients</text>
<text x="0" y="0" font-size="11.2" font-weight="bold" fill="#1a1a1a" text-anchor="middle" textLength="37.50" lengthAdjust="spacingAndGlyphs" stroke="#1a1a1a" stroke-width="0.25" transform="translate(379.00,542.80) rotate(-90)" dy="4.03">Results</text>
<rect x="396.92" y="562.12" width="8.80" height="8.80" fill="#00b050"/>
<rect x="399.82" y="570.08" width="8.80" height="8.80" fill="#00b050"/>
<rect x="411.51" y="581.11" width="8.80" height="8.80" fill="#00b050"/>
<rect x="414.50" y="581.11" width="8.80" height="8.80" fill="#00b050"/>
<rect x="402.33" y="595.20" width="8.80" height="8.80" fill="#00b050"/>
<rect x="405.33" y="594.99" width="8.80" height="8.80" fill="#00b050"/>
<rect x="408.22" y="593.36" width="8.80" height="8.80" fill="#00b050"/>
<rect x="418.17" y="599.48" width="8.80" height="8.80" fill="#00b050"/>
<rect x="421.27" y="594.99" width="8.80" height="8.80" fill="#00b050"/>
<rect x="424.65" y="594.99" width="8.80" height="8.80" fill="#00b050"/>
<rect x="428.03" y="594.48" width="8.80" height="8.80" fill="#00b050"/>
<rect x="431.41" y="593.97" width="8.80" height="8.80" fill="#00b050"/>
<rect x="435.18" y="589.38" width="8.80" height="8.80" fill="#00b050"/>
<rect x="438.65" y="594.99" width="8.80" height="8.80" fill="#00b050"/>
<rect x="442.04" y="592.44" width="8.80" height="8.80" fill="#00b050"/>
<rect x="444.93" y="595.50" width="8.80" height="8.80" fill="#00b050"/>
<rect x="447.54" y="600.50" width="8.80" height="8.80" fill="#00b050"/>
<rect x="450.73" y="592.95" width="8.80" height="8.80" fill="#00b050"/>
<rect x="454.11" y="586.32" width="8.80" height="8.80" fill="#00b050"/>
<rect x="457.01" y="587.85" width="8.80" height="8.80" fill="#00b050"/>
<rect x="460.01" y="571.11" width="8.80" height="8.80" fill="#00b050"/>
<rect x="463.10" y="598.05" width="8.80" height="8.80" fill="#00b050"/>
<rect x="465.70" y="593.97" width="8.80" height="8.80" fill="#00b050"/>
<rect x="469.09" y="587.85" width="8.80" height="8.80" fill="#00b050"/>
<rect x="471.98" y="584.27" width="8.80" height="8.80" fill="#00b050"/>
<rect x="475.37" y="584.78" width="8.80" height="8.80" fill="#00b050"/>
<rect x="478.75" y="589.89" width="8.80" height="8.80" fill="#00b050"/>
<rect x="471.98" y="592.44" width="8.80" height="8.80" fill="#00b050"/>
<rect x="475.85" y="591.93" width="8.80" height="8.80" fill="#00b050"/>
<rect x="468.60" y="594.99" width="8.80" height="8.80" fill="#00b050"/>
<rect x="486.96" y="587.34" width="8.80" height="8.80" fill="#00b050"/>
<rect x="490.34" y="587.34" width="8.80" height="8.80" fill="#00b050"/>
<rect x="493.72" y="587.85" width="8.80" height="8.80" fill="#00b050"/>
<rect x="497.10" y="587.85" width="8.80" height="8.80" fill="#00b050"/>
<rect x="504.64" y="582.23" width="8.80" height="8.80" fill="#00b050"/>
<rect x="507.73" y="586.83" width="8.80" height="8.80" fill="#00b050"/>
<rect x="511.59" y="587.85" width="8.80" height="8.80" fill="#00b050"/>
<rect x="515.46" y="587.85" width="8.80" height="8.80" fill="#00b050"/>
<rect x="519.32" y="587.85" width="8.80" height="8.80" fill="#00b050"/>
<rect x="523.19" y="588.36" width="8.80" height="8.80" fill="#00b050"/>
<rect x="488.41" y="596.01" width="8.80" height="8.80" fill="#00b050"/>
<rect x="492.27" y="596.01" width="8.80" height="8.80" fill="#00b050"/>
<rect x="496.14" y="596.01" width="8.80" height="8.80" fill="#00b050"/>
<rect x="500.00" y="595.50" width="8.80" height="8.80" fill="#00b050"/>
<rect x="503.86" y="594.99" width="8.80" height="8.80" fill="#00b050"/>
<rect x="507.73" y="596.01" width="8.80" height="8.80" fill="#00b050"/>
<rect x="511.59" y="596.01" width="8.80" height="8.80" fill="#00b050"/>
<rect x="515.46" y="596.01" width="8.80" height="8.80" fill="#00b050"/>
<rect x="519.32" y="595.50" width="8.80" height="8.80" fill="#00b050"/>
<rect x="519.23" y="563.86" width="8.80" height="8.80" fill="#00b050"/>
<rect x="526.57" y="595.50" width="8.80" height="8.80" fill="#00b050"/>
<rect x="529.95" y="596.01" width="8.80" height="8.80" fill="#00b050"/>
<rect x="534.10" y="598.87" width="8.80" height="8.80" fill="#00b050"/>
<rect x="537.68" y="596.01" width="8.80" height="8.80" fill="#00b050"/>
<rect x="541.06" y="595.50" width="8.80" height="8.80" fill="#00b050"/>
<rect x="546.76" y="589.17" width="8.80" height="8.80" fill="#00b050"/>
<rect x="548.30" y="596.01" width="8.80" height="8.80" fill="#00b050"/>
<rect x="551.69" y="596.52" width="8.80" height="8.80" fill="#00b050"/>
<rect x="555.07" y="594.48" width="8.80" height="8.80" fill="#00b050"/>
<rect x="558.45" y="594.99" width="8.80" height="8.80" fill="#00b050"/>
<rect x="561.83" y="593.97" width="8.80" height="8.80" fill="#00b050"/>
<rect x="564.24" y="594.48" width="8.80" height="8.80" fill="#00b050"/>
<rect x="531.40" y="548.04" width="8.80" height="8.80" fill="#00b050"/>
<rect x="561.06" y="574.37" width="8.80" height="8.80" fill="#00b050"/>
<rect x="567.82" y="571.92" width="8.80" height="8.80" fill="#00b050"/>
<rect x="571.01" y="575.60" width="8.80" height="8.80" fill="#00b050"/>
<rect x="573.91" y="579.68" width="8.80" height="8.80" fill="#00b050"/>
<rect x="575.84" y="583.76" width="8.80" height="8.80" fill="#00b050"/>
<rect x="579.03" y="600.61" width="8.80" height="8.80" fill="#00b050"/>
<rect x="582.60" y="599.08" width="8.80" height="8.80" fill="#00b050"/>
<rect x="585.98" y="599.08" width="8.80" height="8.80" fill="#00b050"/>
<rect x="589.36" y="599.59" width="8.80" height="8.80" fill="#00b050"/>
<rect x="592.74" y="598.05" width="8.80" height="8.80" fill="#00b050"/>
<rect x="596.12" y="596.01" width="8.80" height="8.80" fill="#00b050"/>
<rect x="588.69" y="586.32" width="8.80" height="8.80" fill="#00b050"/>
<rect x="592.26" y="586.32" width="8.80" height="8.80" fill="#00b050"/>
<rect x="594.68" y="586.32" width="8.80" height="8.80" fill="#00b050"/>
<rect x="601.44" y="591.93" width="8.80" height="8.80" fill="#00b050"/>
<rect x="605.30" y="588.36" width="8.80" height="8.80" fill="#00b050"/>
<rect x="608.68" y="588.87" width="8.80" height="8.80" fill="#00b050"/>
<rect x="612.55" y="591.42" width="8.80" height="8.80" fill="#00b050"/>
<rect x="615.35" y="557.84" width="8.80" height="8.80" fill="#00b050"/>
<rect x="618.05" y="599.28" width="8.80" height="8.80" fill="#00b050"/>
<rect x="621.34" y="599.28" width="8.80" height="8.80" fill="#00b050"/>
<rect x="624.14" y="578.15" width="8.80" height="8.80" fill="#00b050"/>
<rect x="630.71" y="557.73" width="8.80" height="8.80" fill="#00b050"/>
<rect x="634.28" y="558.45" width="8.80" height="8.80" fill="#00b050"/>
<rect x="636.31" y="559.98" width="8.80" height="8.80" fill="#00b050"/>
<rect x="633.71" y="591.42" width="8.80" height="8.80" fill="#00b050"/>
<rect x="637.18" y="591.93" width="8.80" height="8.80" fill="#00b050"/>
<rect x="640.56" y="592.44" width="8.80" height="8.80" fill="#00b050"/>
<rect x="644.72" y="596.52" width="8.80" height="8.80" fill="#00b050"/>
<rect x="647.81" y="594.99" width="8.80" height="8.80" fill="#00b050"/>
<rect x="651.19" y="596.52" width="8.80" height="8.80" fill="#00b050"/>
<rect x="655.35" y="596.52" width="8.80" height="8.80" fill="#00b050"/>
<rect x="657.95" y="592.44" width="8.80" height="8.80" fill="#00b050"/>
<rect x="660.95" y="592.44" width="8.80" height="8.80" fill="#00b050"/>
<rect x="647.81" y="547.32" width="8.80" height="8.80" fill="#00b050"/>
<circle cx="580.82" cy="527.12" r="5.90" fill="#4bacc6" stroke="#3e96b0" stroke-width="0.6"/>
<circle cx="596.08" cy="544.06" r="5.90" fill="#4bacc6" stroke="#3e96b0" stroke-width="0.6"/>
<circle cx="610.48" cy="525.18" r="5.90" fill="#4bacc6" stroke="#3e96b0" stroke-width="0.6"/>
<circle cx="625.64" cy="518.95" r="5.90" fill="#4bacc6" stroke="#3e96b0" stroke-width="0.6"/>
<circle cx="640.91" cy="542.13" r="5.90" fill="#4bacc6" stroke="#3e96b0" stroke-width="0.6"/>
<circle cx="656.07" cy="566.32" r="5.90" fill="#4bacc6" stroke="#3e96b0" stroke-width="0.6"/>
<circle cx="670.47" cy="568.46" r="5.90" fill="#4bacc6" stroke="#3e96b0" stroke-width="0.6"/>
<polygon points="432.23,550.46 426.73,561.46 437.73,561.46" fill="#ff0000" stroke="#a2401e" stroke-width="0.9" stroke-linejoin="miter"/>
<polygon points="448.40,453.00 444.40,463.90 452.40,463.90" fill="#ff0000" stroke="#a2401e" stroke-width="0.9" stroke-linejoin="miter"/>
<polygon points="478.50,454.70 474.60,466.70 482.40,466.70" fill="#ff0000" stroke="#a2401e" stroke-width="0.9" stroke-linejoin="miter"/>
<polygon points="610.20,453.30 605.90,464.50 614.50,464.50" fill="#ff0000" stroke="#a2401e" stroke-width="0.9" stroke-linejoin="miter"/>
<polygon points="612.10,473.30 606.10,484.80 618.10,484.80" fill="#ff0000" stroke="#a2401e" stroke-width="0.9" stroke-linejoin="miter"/>
<polygon points="642.40,474.00 636.45,485.50 648.35,485.50" fill="#ff0000" stroke="#a2401e" stroke-width="0.9" stroke-linejoin="miter"/>
<text x="68.50" y="519.20" font-size="14.6" text-anchor="start" font-weight="normal" fill="#4b4bc4" textLength="169.30" lengthAdjust="spacingAndGlyphs" stroke="#4b4bc4" stroke-width="0.55">False Positive Increased</text>
<text x="413.30" y="517.00" font-size="14.6" text-anchor="start" font-weight="normal" fill="#4b4bc4" textLength="176.70" lengthAdjust="spacingAndGlyphs" stroke="#4b4bc4" stroke-width="0.55">False Positive Decreased</text>
<polygon points="135.50,531.60 144.30,531.60 144.30,564.20 148.30,564.20 139.90,595.80 131.20,564.20 135.50,564.20" fill="none" stroke="#3b3bd0" stroke-width="2.7" stroke-linejoin="round"/>
<polygon points="477.90,529.90 487.30,529.90 487.30,566.00 492.60,566.00 482.60,600.20 473.20,566.00 477.90,566.00" fill="none" stroke="#3b3bd0" stroke-width="2.6" stroke-linejoin="round"/>
<rect x="0.50" y="0.50" width="713.00" height="682.00" fill="none" stroke="#8f8f8f" stroke-width="1.2"/>
</svg>
</body></html>
